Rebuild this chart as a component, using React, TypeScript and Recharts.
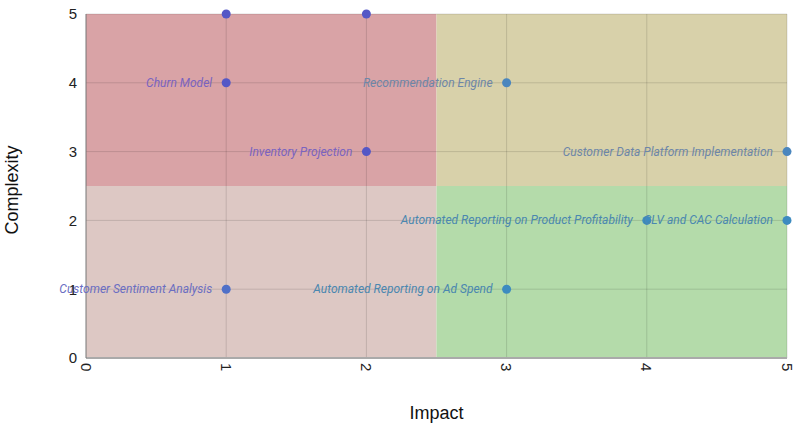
import React from "react";
import {
  ScatterChart,
  Scatter,
  XAxis,
  YAxis,
  ReferenceArea,
  ReferenceLine,
} from "recharts";

// projects: impact (x), complexity (y), name
const impact = [1, 2, 1, 3, 2, 5, 4, 5, 1, 3];
const complexity = [5, 5, 4, 4, 3, 3, 2, 2, 1, 1];
const projectNames = [
  "",
  "",
  "Churn Model",
  "Recommendation Engine",
  "Inventory Projection",
  "Customer Data Platform Implementation",
  "Automated Reporting on Product Profitability",
  "CLV and CAC Calculation",
  "Customer Sentiment Analysis",
  "Automated Reporting on Ad Spend",
];
const axisTicks = [0, 1, 2, 3, 4, 5];

const data = impact.map((x, i) => ({ x, y: complexity[i], name: projectNames[i] }));

// tint of marks depends on the quadrant they sit in
function quadrantColors(x: number, y: number) {
  if (y > 2.5 && x < 2.5) return { dot: "#5457c6", text: "#7a63c0" };
  if (y > 2.5) return { dot: "#4a86be", text: "#6d86a8" };
  if (x < 2.5) return { dot: "#4f70c8", text: "#6a6ec2" };
  return { dot: "#3d8bc0", text: "#4a87b0" };
}

const PointShape = (props: any) => {
  const { cx, cy, payload } = props;
  const c = quadrantColors(payload.x, payload.y);
  return (
    <g>
      <circle cx={cx} cy={cy} r={4.5} fill={c.dot} />
      {payload.name && (
        <text
          x={cx - 14}
          y={cy}
          textAnchor="end"
          dominantBaseline="central"
          fontFamily="Roboto, sans-serif"
          fontStyle="italic"
          fontSize={12}
          fill={c.text}
        >
          {payload.name}
        </text>
      )}
    </g>
  );
};

const XTick = (props: any) => {
  const { x, y, payload } = props;
  return (
    <text
      x={x}
      y={y}
      transform={`rotate(90, ${x}, ${y})`}
      textAnchor="start"
      dominantBaseline="central"
      fontFamily="Arial, 'Liberation Sans', sans-serif"
      fontSize={15}
      fill="#222"
    >
      {payload.value}
    </text>
  );
};

const font = "Arial, 'Liberation Sans', sans-serif";

export default function App() {
  return (
    <div style={{ position: "absolute", left: 0, top: 0, width: 808, height: 433, background: "#fff" }}>
      <ScatterChart
        width={808}
        height={433}
        margin={{ top: 14, right: 21, left: 0, bottom: 0 }}
      >
        <ReferenceArea x1={0} x2={2.5} y1={2.5} y2={5} fill="#d9a3a6" fillOpacity={1} stroke="none" />
        <ReferenceArea x1={2.5} x2={5} y1={2.5} y2={5} fill="#d8d1aa" fillOpacity={1} stroke="none" />
        <ReferenceArea x1={0} x2={2.5} y1={0} y2={2.5} fill="#ddc8c4" fillOpacity={1} stroke="none" />
        <ReferenceArea x1={2.5} x2={5} y1={0} y2={2.5} fill="#b4dbaa" fillOpacity={1} stroke="none" />
        {axisTicks.slice(1).map((t) => (
          <ReferenceLine key={`gx${t}`} x={t} stroke="#000" strokeOpacity={0.13} />
        ))}
        {axisTicks.slice(1).map((t) => (
          <ReferenceLine key={`gy${t}`} y={t} stroke="#000" strokeOpacity={0.13} />
        ))}
        <XAxis
          type="number"
          dataKey="x"
          domain={[0, 5]}
          ticks={axisTicks}
          height={75}
          tickSize={0}
          tickMargin={5}
          tick={<XTick />}
          axisLine={{ stroke: "#aaa", strokeWidth: 2 }}
          label={{
            content: (p: any) => (
              <text
                x={p.viewBox.x + p.viewBox.width / 2}
                y={p.viewBox.y + 55}
                textAnchor="middle"
                dominantBaseline="central"
                fontFamily={font}
                fontSize={18}
                fill="#111"
              >
                Impact
              </text>
            ),
          }}
        />
        <YAxis
          type="number"
          dataKey="y"
          domain={[0, 5]}
          ticks={axisTicks}
          width={86}
          tickSize={0}
          tickMargin={9}
          tick={{ fontSize: 15, fill: "#222", fontFamily: font }}
          axisLine={{ stroke: "#777" }}
          label={{
            content: (p: any) => {
              const cy = p.viewBox.y + p.viewBox.height / 2 + 4;
              return (
                <text
                  x={12}
                  y={cy}
                  transform={`rotate(-90, 12, ${cy})`}
                  textAnchor="middle"
                  dominantBaseline="central"
                  fontFamily={font}
                  fontSize={18}
                  fill="#111"
                >
                  Complexity
                </text>
              );
            },
          }}
        />
        <Scatter data={data} shape={<PointShape />} isAnimationActive={false} />
      </ScatterChart>
    </div>
  );
}
